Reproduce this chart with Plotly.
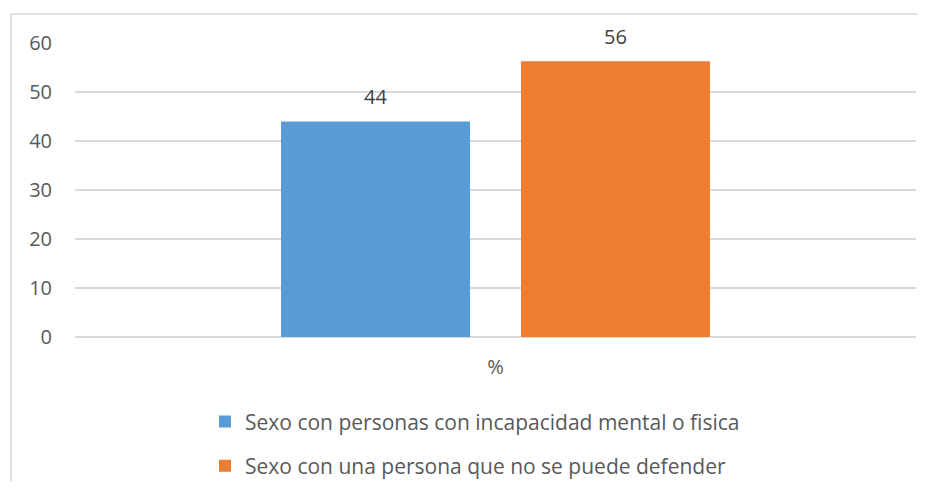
import plotly.graph_objects as go

categories = ["%"]
series_names = [
    "Sexo con personas con incapacidad mental o fisica",
    "Sexo con una persona que no se puede defender",
]
values_a = [44]
values_b = [56.3]
colors = ["#5B9BD5", "#ED7D31"]
y_ticks = [0, 10, 20, 30, 40, 50, 60]

OFF = 8  # page body margin offset
W, H = 929 - 2 * OFF, 493 - 2 * OFF
L, T = 75 - OFF, 43 - OFF
R = W - (916 - OFF)
B = H - (337.5 - OFF)
pw, ph = W - L - R, H - T - B

fig = go.Figure()
for name, vals, col, grp in zip(series_names, [values_a, values_b], colors, ["a", "b"]):
    fig.add_trace(go.Bar(
        x=categories, y=vals, name=name, marker=dict(color=col, line=dict(width=0)),
        legendgroup=grp,
    ))

for i, vals in enumerate([values_a, values_b]):
    for c, v in zip(categories, vals):
        fig.add_annotation(
            x=c, y=v, text=f"{v:.0f}", showarrow=False,
            xshift=(-1 if i == 0 else 1) * 120, yshift=25,
            font=dict(family="Open Sans", size=20, color="#404040"),
        )

# chart-area border: top and left edges, kept inside the figure
bx0 = (11 - OFF - L) / pw
by1 = 1 + (T - (14 - OFF)) / ph
fig.add_shape(type="line", xref="paper", yref="paper",
              x0=bx0, x1=(W - 3 - L) / pw, y0=by1, y1=by1,
              line=dict(color="#D9D9D9", width=1.5), layer="below")
fig.add_shape(type="line", xref="paper", yref="paper",
              x0=bx0, x1=bx0, y0=by1, y1=-(H - 3 - (T + ph)) / ph,
              line=dict(color="#D9D9D9", width=1.5), layer="below")

fig.update_layout(
    width=W, height=H,
    margin=dict(l=L, r=R, t=T, b=B, autoexpand=False),
    paper_bgcolor="white", plot_bgcolor="white",
    barmode="group", bargap=0.4293, bargroupgap=0.2125,
    font=dict(family="Open Sans", size=20, color="#595959"),
    showlegend=True,
    legend=dict(
        orientation="v", x=(197 - L) / pw, xanchor="left",
        y=-(402 - OFF - (T + ph)) / ph, yanchor="top",
        traceorder="grouped", tracegroupgap=14,
        font=dict(family="Open Sans", size=21, color="#595959"),
        bgcolor="rgba(0,0,0,0)",
    ),
    xaxis=dict(
        showgrid=False, showline=False, zeroline=False, ticks="",
        ticklabelstandoff=16,
        tickfont=dict(family="Open Sans", size=20, color="#595959"),
    ),
    yaxis=dict(
        range=[0, 60], tickvals=y_ticks, ticktext=[str(t) for t in y_ticks],
        showgrid=True, gridcolor="#D9D9D9", gridwidth=1.5,
        zeroline=True, zerolinecolor="#D9D9D9", zerolinewidth=1.5,
        showline=False, ticks="", ticklabelstandoff=22,
        tickfont=dict(family="Open Sans", size=20, color="#595959"),
    ),
)

fig.write_html("out.html")
